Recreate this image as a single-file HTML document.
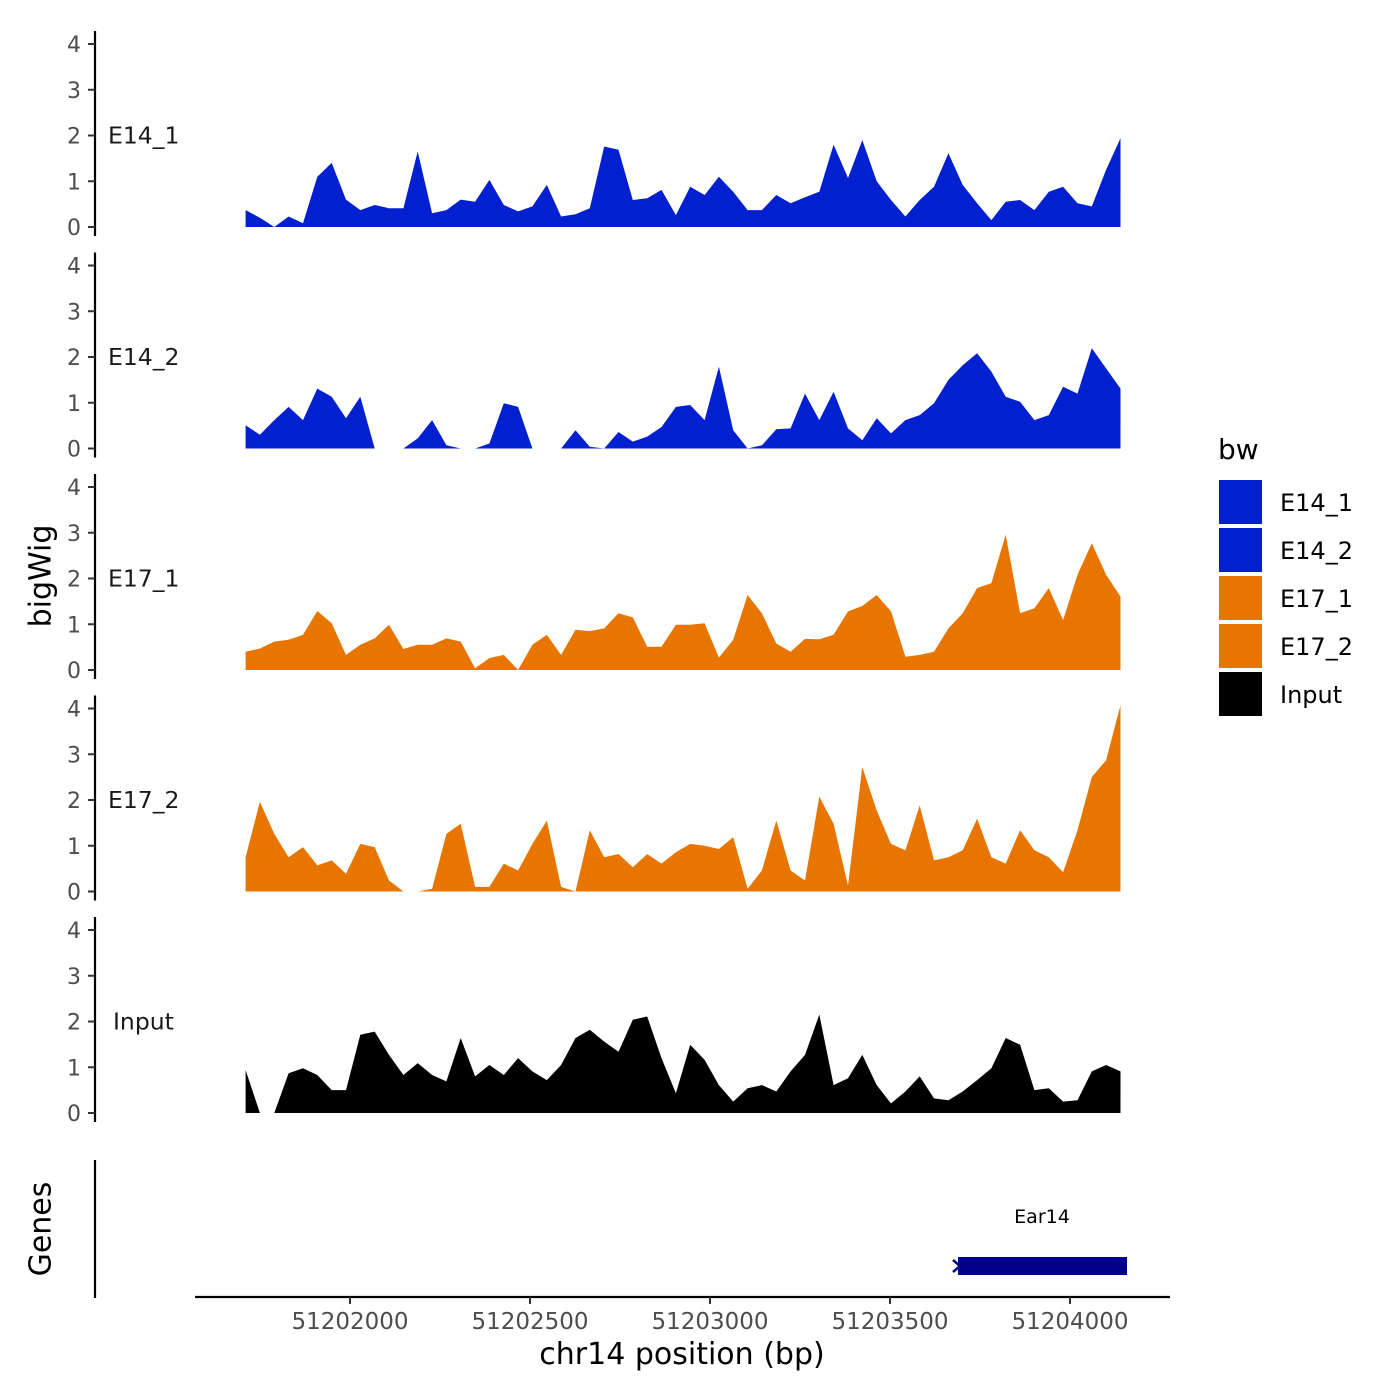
<!DOCTYPE html>
<html><head><meta charset="utf-8"><style>
html,body{margin:0;padding:0;background:#fff;}
svg{display:block;font-family:"DejaVu Sans","Liberation Sans",sans-serif;}
</style></head><body>
<svg id="chart" width="1400" height="1400" viewBox="0 0 1400 1400">
<g id="tracks"></g>
<g id="xaxis"></g>
<text x="42" y="576" transform="rotate(-90 42 576)" text-anchor="middle" dominant-baseline="middle" font-size="30" fill="#000">bigWig</text>
<g>
<line x1="95" y1="1160" x2="95" y2="1298" stroke="#000" stroke-width="2.2"/>
<text x="42" y="1229" transform="rotate(-90 42 1229)" text-anchor="middle" dominant-baseline="middle" font-size="30" fill="#000">Genes</text>
<text x="1042" y="1223" text-anchor="middle" font-size="19" fill="#000">Ear14</text>
<rect x="958" y="1257" width="169" height="18" fill="#00008B"/>
<path d="M953 1260 L960 1266 L953 1272" stroke="#00008B" stroke-width="2.5" fill="none"/>
</g>
<g>
<text x="1218" y="459" font-size="28" fill="#000">bw</text>
<g id="legend-items"></g>
</g>
</svg>
<script>
var positions = [];
for (var i = 0; i < 62; i++) positions.push(51201710 + 39.84 * i);
var trackNames = ["E14_1","E14_2","E17_1","E17_2","Input"];
var trackColors = ["#0220CF","#0220CF","#E87500","#E87500","#000000"];
var e14_1 = [0.37,0.2,0,0.23,0.08,1.1,1.4,0.6,0.37,0.48,0.41,0.41,1.65,0.3,0.37,0.6,0.55,1.03,0.48,0.34,0.45,0.92,0.23,0.28,0.41,1.76,1.69,0.59,0.63,0.81,0.26,0.88,0.7,1.1,0.77,0.37,0.37,0.7,0.52,0.65,0.77,1.8,1.07,1.9,1.0,0.59,0.23,0.59,0.88,1.61,0.92,0.52,0.15,0.55,0.59,0.37,0.77,0.88,0.52,0.45,1.25,1.94];
var e14_2 = [0.51,0.3,0.62,0.91,0.62,1.31,1.13,0.66,1.13,0,0,0,0.22,0.62,0.07,0,0,0.11,0.99,0.91,0,0,0,0.4,0.04,0,0.36,0.15,0.26,0.47,0.91,0.95,0.62,1.79,0.4,0,0.07,0.42,0.44,1.2,0.62,1.24,0.44,0.18,0.66,0.33,0.62,0.73,0.99,1.5,1.82,2.08,1.68,1.13,1.02,0.62,0.73,1.35,1.2,2.19,1.75,1.31];
var e17_1 = [0.4,0.47,0.62,0.66,0.77,1.29,1.02,0.33,0.55,0.69,0.99,0.46,0.55,0.55,0.69,0.62,0.04,0.26,0.33,0,0.55,0.77,0.33,0.88,0.85,0.91,1.24,1.15,0.51,0.51,0.99,0.99,1.02,0.27,0.66,1.64,1.24,0.58,0.4,0.68,0.67,0.77,1.28,1.4,1.64,1.28,0.29,0.33,0.4,0.91,1.24,1.79,1.9,2.96,1.24,1.35,1.79,1.09,2.08,2.77,2.08,1.6];
var e17_2 = [0.75,1.96,1.26,0.75,0.97,0.57,0.68,0.39,1.04,0.97,0.24,0,0,0.06,1.26,1.48,0.1,0.1,0.61,0.46,1.04,1.55,0.1,0,1.34,0.75,0.82,0.53,0.82,0.61,0.86,1.04,1.0,0.93,1.19,0.06,0.46,1.55,0.46,0.24,2.07,1.48,0.13,2.72,1.77,1.04,0.9,1.88,0.68,0.75,0.9,1.59,0.75,0.61,1.34,0.9,0.75,0.42,1.34,2.5,2.87,4.07];
var input = [0.94,0,0,0.87,0.98,0.83,0.5,0.5,1.71,1.78,1.27,0.83,1.09,0.83,0.69,1.64,0.8,1.05,0.83,1.2,0.91,0.72,1.05,1.64,1.82,1.56,1.34,2.04,2.11,1.2,0.43,1.49,1.16,0.61,0.25,0.54,0.61,0.47,0.91,1.27,2.15,0.61,0.76,1.27,0.61,0.21,0.47,0.8,0.32,0.28,0.47,0.72,0.98,1.64,1.49,0.5,0.54,0.25,0.28,0.91,1.05,0.91];
var yTicks = [0,1,2,3,4];
var xTicks = [51202000,51202500,51203000,51203500,51204000];
var xTickLabels = ["51202000","51202500","51203000","51203500","51204000"];

var series = [e14_1,e14_2,e17_1,e17_2,input];
var NS = "http://www.w3.org/2000/svg";
function xScale(bp){ return 350 + (bp - 51202000) * 0.36; }
var baseY = [227, 448.5, 670, 891.5, 1113];
var unit = 45.75;
function yScale(t, v){ return baseY[t] - v * unit; }
function mk(tag, attrs, parent){ var e = document.createElementNS(NS, tag); for (var k in attrs) e.setAttribute(k, attrs[k]); parent.appendChild(e); return e; }

var tracksG = document.getElementById("tracks");
for (var t = 0; t < 5; t++) {
  var g = mk("g", {}, tracksG);
  
  
  var axl = mk("line", {x1:95, y1:baseY[t]-196, x2:95, y2:baseY[t]+9, stroke:"#000", "stroke-width":2.2}, g);
  
  
  for (var j = 0; j < yTicks.length; j++) {
    var yy = yScale(t, yTicks[j]);
    var tk = mk("line", {x1:88, y1:yy, x2:95, y2:yy, stroke:"#333", "stroke-width":2}, g);
    
    
    var tl = mk("text", {x:81, y:yy+8, "text-anchor":"end", "font-size":22, fill:"#4d4d4d"}, g);
    tl.textContent = yTicks[j];
    
    
  }
  var lab = mk("text", {x: t===4?113:108, y: yScale(t,2)+8, "font-size":23.5, fill:"#1a1a1a"}, g);
  lab.textContent = trackNames[t];
  
  
  var vals = series[t];
  var d = "M" + xScale(positions[0]) + " " + baseY[t];
  for (var i = 0; i < vals.length; i++) d += " L" + xScale(positions[i]).toFixed(1) + " " + yScale(t, vals[i]).toFixed(1);
  d += " L" + xScale(positions[vals.length-1]) + " " + baseY[t] + " Z";
  var area = mk("path", {d:d, fill:trackColors[t], "stroke-linejoin":"round"}, g);
  
  
}

var xg = document.getElementById("xaxis");
var xl = mk("line", {x1:195, y1:1297, x2:1170, y2:1297, stroke:"#000", "stroke-width":2.2}, xg);


for (var j = 0; j < xTicks.length; j++) {
  var xx = xScale(xTicks[j]);
  var tk = mk("line", {x1:xx, y1:1297, x2:xx, y2:1304, stroke:"#333", "stroke-width":2}, xg);
  
  
  var tl = mk("text", {x:xx, y:1329, "text-anchor":"middle", "font-size":23, fill:"#4d4d4d"}, xg);
  tl.textContent = xTickLabels[j];
  
  
}
var xt = mk("text", {x:682, y:1364, "text-anchor":"middle", "font-size":30, fill:"#000"}, xg);
xt.textContent = "chr14 position (bp)";



var lg = document.getElementById("legend-items");
for (var t = 0; t < 5; t++) {
  var y0 = 480 + 48 * t;
  var r = mk("rect", {x:1219, y:y0, width:43, height:44, fill:trackColors[t]}, lg);
  
  
  var lt = mk("text", {x:1280, y:y0+31, "font-size":24, fill:"#000"}, lg);
  lt.textContent = trackNames[t];
  
  
}
</script>
</body></html>
